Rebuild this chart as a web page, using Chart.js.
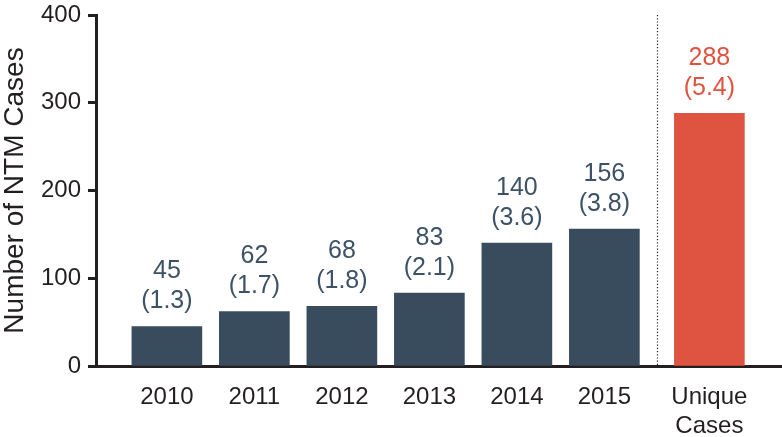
<!DOCTYPE html>
<html>
<head>
<meta charset="utf-8">
<script src="https://cdn.jsdelivr.net/npm/chart.js@4"></script>
<style>
  body { margin: 0; background: #fff; }
  canvas { display: block; }
</style>
</head>
<body>
<canvas id="chart" width="782" height="437"></canvas>
<script>
// values
const categories = ["2010", "2011", "2012", "2013", "2014", "2015", ["Unique", "Cases"]];
const cases = [45, 62, 68, 83, 140, 156, 288];
const rates = ["1.3", "1.7", "1.8", "2.1", "3.6", "3.8", "5.4"];
const yTicks = [0, 100, 200, 300, 400];

// layout
const uniqueGap = 0.2;   // extra space before the "Unique Cases" bar
const dividerAt = 5.6;   // dotted separator between 2015 and unique
const FONT = "'Liberation Sans', Arial, sans-serif";
const INK = "#231f20";
const BLUE = "#384c5e";
const BLUE_TEXT = "#3d5266";
const RED = "#df5440";

const xPos = categories.map((c, i) => i + (i === categories.length - 1 ? uniqueGap : 0));
const barColors = cases.map((v, i) => i === cases.length - 1 ? RED : BLUE);

const valueLabels = {
  id: "valueLabels",
  afterDatasetsDraw(chart) {
    const ctx = chart.ctx;
    const meta = chart.getDatasetMeta(0);
    ctx.save();
    ctx.font = "25px " + FONT;
    ctx.textAlign = "center";
    ctx.textBaseline = "middle";
    meta.data.forEach((bar, i) => {
      ctx.fillStyle = i === cases.length - 1 ? RED : BLUE_TEXT;
      ctx.fillText(String(cases[i]), bar.x, bar.y - 55);
      ctx.fillText("(" + rates[i] + ")", bar.x, bar.y - 25);
    });
    ctx.restore();
  }
};

const divider = {
  id: "divider",
  beforeDatasetsDraw(chart) {
    const {ctx, chartArea, scales} = chart;
    const x = Math.round(scales.x.getPixelForValue(dividerAt)) + 0.5;
    ctx.save();
    ctx.strokeStyle = INK;
    ctx.lineWidth = 1.2;
    ctx.setLineDash([1.2, 2]);
    ctx.beginPath();
    ctx.moveTo(x, chartArea.top);
    ctx.lineTo(x, chartArea.bottom);
    ctx.stroke();
    ctx.restore();
  }
};

new Chart(document.getElementById("chart"), {
  type: "bar",
  data: {
    datasets: [{
      data: cases.map((v, i) => ({x: xPos[i], y: v})),
      backgroundColor: barColors,
      barThickness: 70,
      borderWidth: 0,
    }],
  },
  plugins: [divider, valueLabels],
  options: {
    responsive: false,
    animation: false,
    layout: {padding: {top: 15, right: 0, bottom: 0, left: 0}},
    plugins: {legend: {display: false}, tooltip: {enabled: false}},
    scales: {
      x: {
        type: "linear",
        offset: false,
        min: -0.81,
        max: 7.03,
        afterBuildTicks: scale => {
          scale.ticks = xPos.map(v => ({value: v}));
        },
        afterFit: scale => { scale.height = 71; },
        ticks: {
          autoSkip: false,
          maxRotation: 0,
          padding: 17,
          color: INK,
          font: {family: FONT, size: 24, lineHeight: 1.2},
          callback: (value, index) => categories[index],
        },
        grid: {display: false, drawTicks: false},
        border: {display: true, color: INK, width: 3},
      },
      y: {
        min: 0,
        max: 400,
        afterBuildTicks: scale => {
          scale.ticks = yTicks.map(v => ({value: v}));
        },
        afterFit: scale => {
          scale.width = 96;
          scale.paddingTop = 0;
          scale.paddingBottom = 0;
        },
        ticks: {
          padding: 7,
          color: INK,
          font: {family: FONT, size: 24},
        },
        grid: {
          drawOnChartArea: false,
          drawTicks: true,
          tickLength: 8,
          tickColor: INK,
          tickWidth: 3,
        },
        border: {display: true, color: INK, width: 3},
        title: {
          display: true,
          text: "Number of NTM Cases",
          color: INK,
          font: {family: FONT, size: 28, lineHeight: 1},
          padding: {top: 1, bottom: 0},
        },
      },
    },
  },
});
</script>
</body>
</html>
